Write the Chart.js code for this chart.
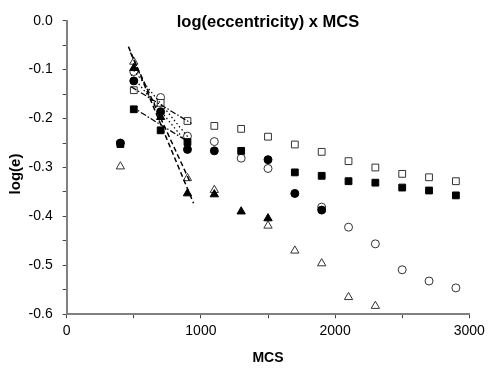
<!DOCTYPE html>
<html><head><meta charset="utf-8">
<script src="https://cdn.jsdelivr.net/npm/chart.js@4"></script>
<style>html,body{margin:0;padding:0;background:#fff;}canvas{display:block;}</style>
</head><body>
<canvas id="c" width="503" height="368"></canvas>
<script>
// ---- data ----
const openSquareX   = [500,700,900,1100,1300,1500,1700,1900,2100,2300,2500,2700,2900];
const openSquareY   = [-0.142,-0.168,-0.205,-0.215,-0.221,-0.237,-0.253,-0.268,-0.287,-0.300,-0.313,-0.320,-0.328];
const filledSquareX = [400,500,700,900,1300,1700,1900,2100,2300,2500,2700,2900];
const filledSquareY = [-0.252,-0.181,-0.224,-0.248,-0.266,-0.310,-0.317,-0.328,-0.331,-0.341,-0.347,-0.357];
const filledCircleX = [400,500,700,900,1100,1500,1700,1900];
const filledCircleY = [-0.250,-0.123,-0.186,-0.263,-0.266,-0.284,-0.353,-0.387];
const openCircleX   = [500,700,900,1100,1300,1500,1900,2100,2300,2500,2700,2900];
const openCircleY   = [-0.104,-0.157,-0.236,-0.247,-0.281,-0.302,-0.381,-0.422,-0.456,-0.509,-0.532,-0.546];
const filledTriX    = [500,700,900,1100,1300,1500];
const filledTriY    = [-0.097,-0.197,-0.353,-0.355,-0.390,-0.404];
const openTriX      = [400,500,900,1100,1500,1700,1900,2100,2300];
const openTriY      = [-0.298,-0.084,-0.322,-0.346,-0.419,-0.470,-0.496,-0.565,-0.583];

// fit lines (start/end)
const fitFilledTriX = [460,945],  fitFilledTriY = [-0.053,-0.373];
const fitOpenTriX   = [475,920],  fitOpenTriY   = [-0.065,-0.330];
const fitFilledCirX = [480,910],  fitFilledCirY = [-0.110,-0.255];
const fitOpenCirX   = [480,910],  fitOpenCirY   = [-0.095,-0.240];
const fitOpenSqX    = [480,930],  fitOpenSqY    = [-0.135,-0.210];
const fitFilledSqX  = [480,920],  fitFilledSqY  = [-0.175,-0.250];

const xTicks = [0,1000,2000,3000];
const yTicks = [0.0,-0.1,-0.2,-0.3,-0.4,-0.5,-0.6];

const titleText = 'log(eccentricity) x MCS';
const xTitle = 'MCS';
const yTitle = 'log(e)';

// ---- build ----
const pts = (xs, ys) => xs.map((x, i) => ({x, y: ys[i]}));
const FONT = "'Liberation Sans', Arial, sans-serif";

function markerSet(xs, ys, style, filled, r) {
  return {
    type: 'scatter',
    data: pts(xs, ys),
    pointStyle: style,
    pointRadius: r,
    pointHoverRadius: r,
    pointBorderWidth: 1,
    pointBackgroundColor: filled ? '#000' : '#fff',
    pointBorderColor: filled ? '#000' : '#333',
    showLine: false,
    order: filled ? 2 : 3
  };
}
function fitSet(xs, ys, dash, w) {
  return {
    type: 'line',
    data: pts(xs, ys),
    borderColor: '#000',
    borderWidth: w,
    borderDash: dash,
    pointRadius: 0,
    fill: false,
    order: 1
  };
}

const datasets = [
  fitSet(fitFilledTriX, fitFilledTriY, [5,3], 1.5),
  fitSet(fitOpenTriX, fitOpenTriY, [5,3], 1.5),
  fitSet(fitFilledCirX, fitFilledCirY, [1.5,2.5], 1.2),
  fitSet(fitOpenCirX, fitOpenCirY, [1.5,2.5], 1.2),
  fitSet(fitOpenSqX, fitOpenSqY, [6,2,1.5,2], 1.2),
  fitSet(fitFilledSqX, fitFilledSqY, [6,2,1.5,2], 1.2),
  markerSet(filledTriX, filledTriY, 'triangle', true, 4.8),
  markerSet(filledCircleX, filledCircleY, 'circle', true, 4),
  markerSet(filledSquareX, filledSquareY, 'rect', true, 4.8),
  markerSet(openSquareX, openSquareY, 'rect', false, 4.8),
  markerSet(openTriX, openTriY, 'triangle', false, 4.8),
  markerSet(openCircleX, openCircleY, 'circle', false, 4)
];

const isMajor = (v, arr) => arr.some(t => Math.abs(t - v) < 1e-6);

const textPlugin = {
  id: 'texts',
  afterDraw(chart) {
    const {ctx, chartArea: a} = chart;
    const cx = (a.left + a.right) / 2;
    ctx.save();
    ctx.fillStyle = '#000';
    ctx.textAlign = 'center';
    ctx.textBaseline = 'alphabetic';
    ctx.font = "bold 16.5px " + FONT;
    ctx.fillText(titleText, cx, 27);
    ctx.font = "bold 14px " + FONT;
    ctx.fillText(xTitle, cx, 362);
    ctx.translate(16, 174);
    ctx.rotate(-Math.PI / 2);
    ctx.textBaseline = 'middle';
    ctx.font = "bold 15px " + FONT;
    ctx.fillText(yTitle, 0, 0);
    ctx.restore();
  }
};

new Chart(document.getElementById('c'), {
  data: { datasets },
  options: {
    responsive: false,
    animation: false,
    events: [],
    layout: { padding: { top: 20.7, right: 33.7, left: 0, bottom: 0 } },
    plugins: { legend: { display: false }, tooltip: { enabled: false }, title: { display: false } },
    scales: {
      x: {
        type: 'linear', min: 0, max: 3000,
        afterFit(s) { s.height = 53.7; },
        ticks: {
          stepSize: 500, autoSkip: false, maxRotation: 0, padding: 4,
          color: '#000', font: { family: FONT, size: 14 },
          callback: v => isMajor(v, xTicks) ? String(v) : ''
        },
        grid: { drawOnChartArea: false, drawTicks: true, tickLength: 4, tickColor: '#444', tickWidth: 1 },
        border: { display: true, color: '#808080', width: 2 }
      },
      y: {
        type: 'linear', min: -0.6, max: 0,
        afterFit(s) { s.width = 66.7; },
        ticks: {
          stepSize: 0.05, autoSkip: false, padding: 10,
          color: '#000', font: { family: FONT, size: 14 },
          callback: v => isMajor(v, yTicks) ? v.toFixed(1) : ''
        },
        grid: { drawOnChartArea: false, drawTicks: true, tickLength: 4, tickColor: '#444', tickWidth: 1 },
        border: { display: true, color: '#808080', width: 2 }
      }
    }
  },
  plugins: [textPlugin]
});
</script>
</body></html>
